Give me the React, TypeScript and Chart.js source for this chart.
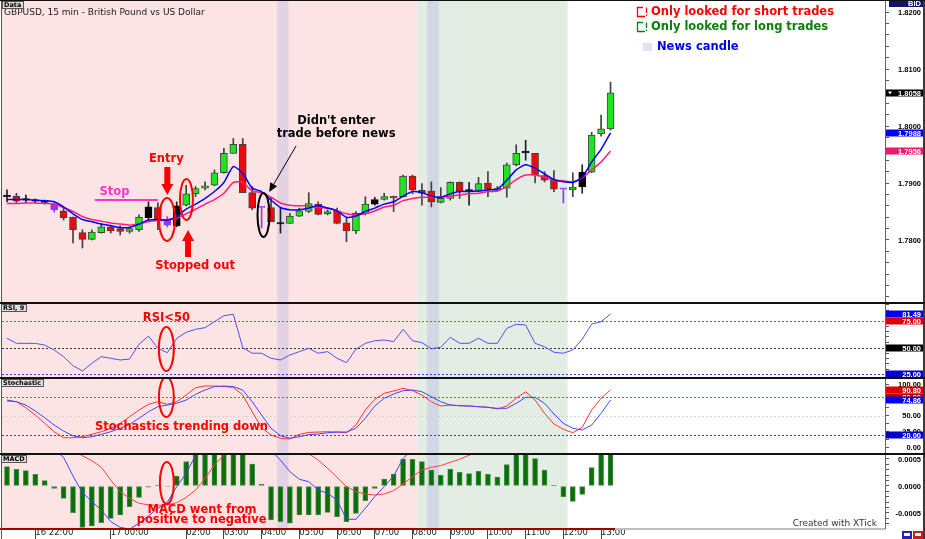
import React, { useEffect, useRef } from 'react';
import { Chart, registerables } from 'chart.js';
Chart.register(...registerables);

// ------------------------------------------------------------------ data
// 15-minute GBPUSD candles, 16 21:15 .. 17 13:15
const OPEN = [1.7876, 1.7877, 1.7870, 1.7868, 1.7867, 1.7863, 1.7851, 1.7840, 1.7813, 1.7801, 1.7813, 1.7823, 1.7820, 1.7815, 1.7818, 1.7858, 1.7857, 1.7836, 1.7825, 1.7861, 1.7881, 1.7891, 1.7896, 1.7918, 1.7952, 1.7968, 1.7883, 1.7857, 1.7857, 1.7828, 1.7829, 1.7842, 1.7850, 1.7863, 1.7846, 1.7851, 1.7830, 1.7816, 1.7846, 1.7863, 1.7871, 1.7876, 1.7876, 1.7912, 1.7887, 1.7886, 1.7866, 1.7873, 1.7901, 1.7886, 1.7887, 1.7900, 1.7888, 1.7891, 1.7932, 1.7953, 1.7952, 1.7913, 1.7906, 1.7889, 1.7888, 1.7893, 1.7919, 1.7986, 1.7995];
const HIGH = [1.7888, 1.7882, 1.7879, 1.7872, 1.7870, 1.7865, 1.7856, 1.7840, 1.7818, 1.7818, 1.7828, 1.7826, 1.7825, 1.7823, 1.7844, 1.7867, 1.7865, 1.7841, 1.7867, 1.7896, 1.7894, 1.7902, 1.7923, 1.7961, 1.7978, 1.7978, 1.7894, 1.7857, 1.7873, 1.7856, 1.7847, 1.7856, 1.7883, 1.7867, 1.7853, 1.7856, 1.7838, 1.7850, 1.7876, 1.7875, 1.7882, 1.7877, 1.7914, 1.7914, 1.7899, 1.7902, 1.7892, 1.7902, 1.7902, 1.7901, 1.7910, 1.7920, 1.7894, 1.7935, 1.7967, 1.7975, 1.7952, 1.7920, 1.7922, 1.7889, 1.7918, 1.7932, 1.7989, 1.8019, 1.8077];
const LOW = [1.7867, 1.7865, 1.7865, 1.7865, 1.7863, 1.7849, 1.7835, 1.7795, 1.7786, 1.7800, 1.7812, 1.7812, 1.7809, 1.7812, 1.7815, 1.7835, 1.7818, 1.7823, 1.7823, 1.7860, 1.7876, 1.7888, 1.7895, 1.7917, 1.7952, 1.7883, 1.7853, 1.7821, 1.7832, 1.7812, 1.7829, 1.7841, 1.7848, 1.7844, 1.7844, 1.7828, 1.7797, 1.7811, 1.7844, 1.7861, 1.7870, 1.7850, 1.7875, 1.7881, 1.7861, 1.7858, 1.7865, 1.7870, 1.7873, 1.7861, 1.7885, 1.7876, 1.7886, 1.7875, 1.7930, 1.7940, 1.7900, 1.7902, 1.7885, 1.7865, 1.7876, 1.7882, 1.7918, 1.7982, 1.7993];
const CLOSE = [1.7876, 1.7868, 1.7870, 1.7868, 1.7866, 1.7853, 1.7839, 1.7818, 1.7801, 1.7814, 1.7823, 1.7816, 1.7815, 1.7820, 1.7840, 1.7839, 1.7835, 1.7826, 1.7860, 1.7881, 1.7890, 1.7895, 1.7918, 1.7952, 1.7968, 1.7883, 1.7856, 1.7857, 1.7832, 1.7828, 1.7842, 1.7851, 1.7864, 1.7845, 1.7850, 1.7829, 1.7816, 1.7847, 1.7863, 1.7871, 1.7876, 1.7874, 1.7912, 1.7888, 1.7882, 1.7867, 1.7873, 1.7901, 1.7885, 1.7886, 1.7899, 1.7889, 1.7890, 1.7932, 1.7952, 1.7953, 1.7914, 1.7905, 1.7889, 1.7889, 1.7893, 1.7919, 1.7984, 1.7995, 1.8058];
// candle colour class: g = up, r = down, k = black, p = purple
const KIND = ['k', 'r', 'k', 'k', 'k', 'p', 'r', 'r', 'r', 'g', 'g', 'r', 'r', 'g', 'g', 'k', 'r', 'p', 'k', 'g', 'g', 'g', 'g', 'g', 'g', 'r', 'r', 'p', 'r', 'k', 'g', 'g', 'g', 'r', 'g', 'r', 'r', 'g', 'g', 'k', 'g', 'r', 'g', 'r', 'r', 'r', 'g', 'g', 'r', 'k', 'g', 'r', 'g', 'g', 'g', 'k', 'r', 'r', 'r', 'p', 'g', 'k', 'g', 'g', 'g'];

const MA_FAST = [1.7871, 1.7871, 1.7871, 1.7870, 1.7869, 1.7867, 1.7858, 1.7846, 1.7836, 1.7832, 1.7828, 1.7825, 1.7822, 1.7822, 1.7828, 1.7835, 1.7836, 1.7835, 1.7841, 1.7854, 1.7863, 1.7873, 1.7885, 1.7901, 1.7929, 1.7917, 1.7891, 1.7885, 1.7870, 1.7857, 1.7853, 1.7853, 1.7856, 1.7860, 1.7856, 1.7851, 1.7840, 1.7842, 1.7850, 1.7856, 1.7863, 1.7867, 1.7877, 1.7885, 1.7883, 1.7877, 1.7875, 1.7881, 1.7885, 1.7885, 1.7886, 1.7888, 1.7889, 1.7905, 1.7923, 1.7932, 1.7926, 1.7916, 1.7906, 1.7902, 1.7901, 1.7910, 1.7937, 1.7959, 1.7988];
const MA_SLOW = [1.7864, 1.7864, 1.7865, 1.7865, 1.7864, 1.7863, 1.7857, 1.7850, 1.7841, 1.7836, 1.7833, 1.7830, 1.7828, 1.7826, 1.7828, 1.7832, 1.7834, 1.7835, 1.7838, 1.7846, 1.7854, 1.7863, 1.7871, 1.7882, 1.7901, 1.7901, 1.7886, 1.7883, 1.7875, 1.7865, 1.7861, 1.7860, 1.7860, 1.7857, 1.7856, 1.7851, 1.7846, 1.7844, 1.7846, 1.7851, 1.7858, 1.7861, 1.7869, 1.7873, 1.7875, 1.7875, 1.7875, 1.7877, 1.7879, 1.7881, 1.7882, 1.7885, 1.7886, 1.7894, 1.7906, 1.7914, 1.7914, 1.7910, 1.7905, 1.7904, 1.7902, 1.7909, 1.7923, 1.7937, 1.7956];

const RSI = [58.8, 54.1, 54.1, 54.0, 52.5, 47.8, 41.6, 33.2, 28.2, 35.4, 41.6, 40.1, 38.5, 39.4, 53.2, 60.9, 49.4, 45.3, 58.8, 64.4, 67.2, 68.7, 74.3, 79.9, 81.2, 50.0, 44.8, 44.8, 40.1, 38.5, 43.2, 46.3, 49.4, 44.8, 46.3, 40.1, 36.0, 48.5, 54.1, 56.5, 57.2, 55.6, 67.2, 56.5, 54.7, 49.1, 50.4, 59.7, 54.1, 54.1, 58.8, 54.1, 54.1, 68.1, 71.9, 71.2, 54.1, 50.9, 45.7, 44.8, 47.9, 57.9, 72.1, 74.3, 81.49];
const RSI_LEVELS = [75, 50, 25];

const STOCH_K = [73.3, 72.2, 62.8, 51.3, 38.3, 25.1, 15.7, 15.7, 17.3, 21.0, 25.1, 30.5, 38.3, 48.7, 59.2, 68.1, 72.2, 68.1, 72.2, 82.7, 94.2, 96.9, 96.9, 95.8, 94.8, 82.7, 56.5, 31.4, 19.9, 14.8, 13.7, 21.0, 24.0, 24.6, 25.1, 24.6, 23.5, 35.6, 59.2, 76.0, 85.4, 89.0, 93.2, 89.5, 82.7, 72.2, 65.5, 67.0, 65.9, 65.5, 64.4, 63.4, 60.8, 65.5, 77.6, 87.9, 74.9, 54.0, 37.2, 28.9, 23.5, 32.0, 59.2, 77.6, 90.80];
const STOCH_D = [74.9, 72.2, 67.0, 57.6, 47.1, 35.6, 26.2, 18.8, 15.7, 17.3, 21.0, 25.1, 30.5, 36.7, 46.2, 56.5, 64.4, 67.0, 69.7, 74.9, 83.8, 90.6, 95.8, 96.9, 95.8, 90.6, 72.2, 51.3, 30.5, 18.8, 14.8, 17.3, 20.5, 21.5, 23.5, 24.6, 24.6, 30.5, 46.2, 65.5, 77.6, 84.3, 89.5, 90.6, 87.9, 80.1, 72.2, 67.0, 65.9, 65.5, 64.4, 63.4, 61.8, 61.8, 69.7, 79.1, 79.1, 69.7, 52.9, 38.3, 30.5, 27.8, 35.6, 54.0, 74.86];
const STOCH_LEVELS = [80, 50, 20];

const MACD_HIST = [0.000358, 0.000309, 0.000284, 0.000216, 0.000099, -0.000043, -0.000228, -0.000494, -0.000765, -0.00074, -0.000679, -0.000599, -0.000537, -0.000383, -0.00021, -0.00002, 0.00001, -0.00001, 0.000185, 0.00045, 0.0007, 0.0008, 0.0009, 0.0009, 0.0008, 0.00065, 0.000407, 0.000037, -0.00063, -0.00066, -0.00069, -0.000537, -0.000537, -0.000537, -0.000488, -0.000568, -0.00066, -0.000506, -0.000272, -0.000043, 0.00013, 0.000222, 0.0005, 0.000494, 0.00045, 0.000296, 0.000204, 0.000315, 0.000253, 0.000228, 0.000272, 0.000216, 0.000167, 0.000395, 0.0007, 0.0007, 0.000506, 0.000296, 0.00001, -0.000198, -0.000284, -0.000154, 0.00034, 0.0007, 0.0008];
const MACD_LINE = [0.0012, 0.0011, 0.0010, 0.0009, 0.0008, 0.00068, 0.00053, 0.000185, -0.000123, -0.00029, -0.000444, -0.00066, -0.000765, -0.0008, -0.00069, -0.000556, -0.000413, -0.000302, -0.000012, 0.000235, 0.00057, 0.0008, 0.0011, 0.0014, 0.0016, 0.0014, 0.0011, 0.0008, 0.00065, 0.00048, 0.000265, 0.000124, 0.00008, -0.000074, -0.000136, -0.00026, -0.000617, -0.000617, -0.000413, -0.000198, -0.000012, 0.000185, 0.00051, 0.00068, 0.00075, 0.00066, 0.0006, 0.00075, 0.00075, 0.0008, 0.0009, 0.0009, 0.00088, 0.0012, 0.0015, 0.0016, 0.0014, 0.0012, 0.0009, 0.0008, 0.00075, 0.0008, 0.0012, 0.0016, 0.0019];
const MACD_SIGNAL = [0.0014, 0.0013, 0.0012, 0.0011, 0.00098, 0.00088, 0.00076, 0.00066, 0.00056, 0.00047, 0.000346, 0.000111, -0.000105, -0.000228, -0.00032, -0.00035, -0.000358, -0.00035, -0.000309, -0.00021, -0.000074, 0.000142, 0.000389, 0.00057, 0.0008, 0.0009, 0.0009, 0.0009, 0.0009, 0.00085, 0.00078, 0.00068, 0.0006, 0.00048, 0.000327, 0.00016, -0.000012, -0.000105, -0.000148, -0.000167, -0.000148, -0.000086, 0.000037, 0.000173, 0.000296, 0.000346, 0.000377, 0.000438, 0.000494, 0.00057, 0.00063, 0.00068, 0.0007, 0.00075, 0.00082, 0.0009, 0.00095, 0.00097, 0.00097, 0.00097, 0.00097, 0.00096, 0.00098, 0.00105, 0.0011];

// x-axis ticks (candle index) and their labels
const TICK_POS = [3, 11, 19, 23, 27, 31, 35, 39, 43, 47, 51, 55, 59, 63];
const TICK_LABELS = ['16 22:00', '17 00:00', '02:00', '03:00', '04:00', '05:00', '06:00', '07:00', '08:00', '09:00', '10:00', '11:00', '12:00', '13:00'];

// y-axis major labels
const PRICE_TICKS = [1.78, 1.79, 1.80, 1.81, 1.82];
const RSI_TICKS = [25, 50, 75];
const STOCH_TICKS = [0, 25, 50, 75, 100];
const MACD_TICKS = [-0.0005, 0, 0.0005];

// sessions (in candle-index units) and news candles
const SESSION_FROM = [-1, 43.5];
const SESSION_TO = [43.5, 59.45];
const NEWS_FROM = [28.65, 44.55];
const NEWS_TO = [29.85, 45.8];

// ------------------------------------------------------------------ style
const X_MIN = -0.53;
const X_MAX = 93.107;
const SESSION_COLORS = ['#fde4e4', '#e3ede3'];
const NEWS_COLOR = 'rgba(160,160,230,0.28)';
const FONT = '"DejaVu Sans", Verdana, sans-serif';
const AXIS_FONT = 'bold 7.5px "Liberation Sans", Arial, sans-serif';
const LABEL_RIGHT = 921;
const RED = '#ff0000';
const FILL: any = { g: '#1ee61e', r: '#ee0a0a', k: '#000000', p: '#9933ee' };
const EDGE: any = { g: '#404040', r: '#404040', k: '#000000', p: '#9933ee' };
const WICK: any = { g: '#404040', r: '#404040', k: '#202020', p: '#9933ee' };

const pts = (arr: number[]) => arr.map((v, i) => ({ x: i, y: v }));
const minorTicks = (lo: number, hi: number, step: number) => {
  const out: number[] = [];
  const n = Math.round((hi - lo) / step);
  for (let k = 0; k <= n; k++) out.push(+(lo + k * step).toFixed(6));
  return out;
};

function shadePlugin(levels: { v: number; color: string }[]) {
  return {
    id: 'shade',
    beforeDatasetsDraw(chart: any) {
      const { ctx, chartArea: a } = chart;
      const x = chart.scales.x;
      const y = chart.scales.y;
      ctx.save();
      ctx.beginPath();
      ctx.rect(a.left, a.top, a.right - a.left, a.bottom - a.top);
      ctx.clip();
      SESSION_FROM.forEach((f, k) => {
        const x0 = x.getPixelForValue(f);
        const x1 = x.getPixelForValue(SESSION_TO[k]);
        ctx.fillStyle = SESSION_COLORS[k];
        ctx.fillRect(x0, a.top, x1 - x0, a.bottom - a.top);
      });
      NEWS_FROM.forEach((f, k) => {
        const x0 = x.getPixelForValue(f);
        const x1 = x.getPixelForValue(NEWS_TO[k]);
        ctx.fillStyle = NEWS_COLOR;
        ctx.fillRect(x0, a.top, x1 - x0, a.bottom - a.top);
      });
      ctx.lineWidth = 1;
      ctx.setLineDash([2, 2]);
      levels.forEach((l) => {
        const yy = Math.round(y.getPixelForValue(l.v)) + 0.5;
        ctx.strokeStyle = l.color;
        ctx.beginPath();
        ctx.moveTo(a.left, yy);
        ctx.lineTo(a.right, yy);
        ctx.stroke();
      });
      ctx.restore();
    },
  };
}

function axisPlugin(majors: number[], digits: number, boxes: { v: number; bg: string; tri?: boolean }[]) {
  return {
    id: 'axisLabels',
    afterDraw(chart: any) {
      const { ctx, chartArea: a } = chart;
      const y = chart.scales.y;
      ctx.save();
      ctx.font = AXIS_FONT;
      ctx.textAlign = 'right';
      ctx.textBaseline = 'middle';
      ctx.fillStyle = '#000';
      majors.forEach((v) => ctx.fillText(v.toFixed(digits), LABEL_RIGHT, y.getPixelForValue(v) + 0.5));
      boxes.forEach((b) => {
        const yy = Math.round(y.getPixelForValue(b.v));
        ctx.fillStyle = b.bg;
        ctx.fillRect(a.right + 1, yy - 3.5, 37, 7);
        ctx.fillStyle = '#fff';
        ctx.fillText(b.v.toFixed(digits), LABEL_RIGHT, yy + 0.5);
        if (b.tri) {
          ctx.beginPath();
          ctx.moveTo(a.right + 3, yy - 1.5);
          ctx.lineTo(a.right + 7, yy - 1.5);
          ctx.lineTo(a.right + 5, yy + 1.5);
          ctx.closePath();
          ctx.fill();
        }
      });
      ctx.restore();
    },
  };
}

function drawTag(ctx: any, label: string, x: number, y: number) {
  ctx.save();
  ctx.font = `bold 6.5px ${FONT}`;
  const w = Math.ceil(ctx.measureText(label).width) + 4;
  ctx.fillStyle = '#dedede';
  ctx.fillRect(x, y, w, 8);
  ctx.strokeStyle = '#555';
  ctx.lineWidth = 1;
  ctx.strokeRect(x + 0.5, y + 0.5, w - 1, 7);
  ctx.fillStyle = '#000';
  ctx.textBaseline = 'middle';
  ctx.textAlign = 'left';
  ctx.fillText(label, x + 2, y + 4.5);
  ctx.restore();
}

function framePlugin(separator: boolean, tag: string) {
  return {
    id: 'frame',
    afterDraw(chart: any) {
      const { ctx, width, height } = chart;
      ctx.save();
      ctx.fillStyle = '#555';
      ctx.fillRect(1, 0, 1, height);
      ctx.fillStyle = '#3a3a3a';
      ctx.fillRect(923, 0, 2, height);
      ctx.fillStyle = '#111';
      if (separator) ctx.fillRect(0, 0, width, 2);
      else ctx.fillRect(0, 0, width, 1);
      ctx.restore();
      drawTag(ctx, tag, separator ? 1 : 2, separator ? 2 : 1);
    },
  };
}

function text(ctx: any, s: string, x: number, y: number, color: string, font: string, align = 'center') {
  ctx.font = font;
  ctx.fillStyle = color;
  ctx.textAlign = align;
  ctx.textBaseline = 'middle';
  ctx.fillText(s, x, y);
}
function ellipse(ctx: any, cx: number, cy: number, rx: number, ry: number, color: string) {
  ctx.beginPath();
  ctx.ellipse(cx, cy, rx, ry, 0, 0, Math.PI * 2);
  ctx.strokeStyle = color;
  ctx.lineWidth = 2;
  ctx.stroke();
}
function blockArrow(ctx: any, x: number, yTail: number, yTip: number, color: string) {
  const dir = Math.sign(yTip - yTail);
  const yBase = yTip - dir * 11;
  ctx.beginPath();
  ctx.moveTo(x - 3, yTail);
  ctx.lineTo(x + 3, yTail);
  ctx.lineTo(x + 3, yBase);
  ctx.lineTo(x + 6, yBase);
  ctx.lineTo(x, yTip);
  ctx.lineTo(x - 6, yBase);
  ctx.lineTo(x - 3, yBase);
  ctx.closePath();
  ctx.fillStyle = color;
  ctx.fill();
}
const BOLD = `bold 11.5px ${FONT}`;

const mainDeco = {
  id: 'mainDeco',
  afterDraw(chart: any) {
    const { ctx } = chart;
    const X = (i: number) => chart.scales.x.getPixelForValue(i);
    const Y = (v: number) => chart.scales.y.getPixelForValue(v);
    ctx.save();
    text(ctx, 'GBPUSD, 15 min - British Pound vs US Dollar', 4, 13, '#1a1a1a', `9px ${FONT}`, 'left');
    const icon = (yc: number, color: string) => {
      ctx.strokeStyle = color;
      ctx.lineWidth = 1.3;
      ctx.beginPath();
      ctx.moveTo(643, yc - 4.5);
      ctx.lineTo(637.5, yc - 4.5);
      ctx.lineTo(637.5, yc + 4.5);
      ctx.lineTo(645, yc + 4.5);
      ctx.moveTo(646.5, yc - 4.5);
      ctx.lineTo(646.5, yc + 1);
      ctx.moveTo(646.5, yc + 2.5);
      ctx.lineTo(646.5, yc + 4);
      ctx.stroke();
    };
    icon(12, '#ff0000');
    text(ctx, 'Only looked for short trades', 651, 12.5, '#ff0000', BOLD, 'left');
    icon(27, '#0b7d0b');
    text(ctx, 'Only looked for long trades', 651, 27.5, '#0b7d0b', BOLD, 'left');
    ctx.fillStyle = '#e2e2f4';
    ctx.fillRect(643, 43, 9, 8);
    text(ctx, 'News candle', 657, 47.5, '#0000ee', BOLD, 'left');
    ctx.fillStyle = '#14146e';
    ctx.fillRect(889, 0, 34, 7);
    text(ctx, 'BID', 921, 4, '#fff', AXIS_FONT, 'right');

    ctx.strokeStyle = '#ff33cc';
    ctx.lineWidth = 2;
    ctx.beginPath();
    ctx.moveTo(X(9.33), Math.round(Y(1.78702)));
    ctx.lineTo(X(16.0), Math.round(Y(1.78702)));
    ctx.stroke();
    text(ctx, 'Stop', X(11.4), Y(1.78842), '#ff33cc', BOLD);
    text(ctx, 'Entry', X(16.9), Y(1.79421), RED, BOLD);
    blockArrow(ctx, X(17.0), Y(1.7928), Y(1.78789), RED);
    text(ctx, 'Stopped out', X(19.94), Y(1.77544), RED, BOLD);
    blockArrow(ctx, X(19.2), Y(1.77702), Y(1.78175), RED);
    ellipse(ctx, X(16.97), Y(1.7836), 8, 21.5, RED);
    ellipse(ctx, X(19.03), Y(1.78711), 6.5, 20.5, RED);
    ellipse(ctx, X(27.2), Y(1.78439), 6, 22, '#000');
    text(ctx, "Didn't enter", X(34.9), Y(1.80088), '#000', BOLD);
    text(ctx, 'trade before news', X(34.9), Y(1.7986), '#000', BOLD);
    const x0 = X(30.65), y0 = Y(1.79649), x1 = X(27.8), y1 = Y(1.78842);
    const ang = Math.atan2(y1 - y0, x1 - x0);
    ctx.strokeStyle = '#000';
    ctx.lineWidth = 1;
    ctx.beginPath();
    ctx.moveTo(x0, y0);
    ctx.lineTo(x1 - Math.cos(ang) * 6, y1 - Math.sin(ang) * 6);
    ctx.stroke();
    ctx.fillStyle = '#000';
    ctx.beginPath();
    ctx.moveTo(x1, y1);
    ctx.lineTo(x1 - Math.cos(ang) * 9 + Math.sin(ang) * 4, y1 - Math.sin(ang) * 9 - Math.cos(ang) * 4);
    ctx.lineTo(x1 - Math.cos(ang) * 9 - Math.sin(ang) * 4, y1 - Math.sin(ang) * 9 + Math.cos(ang) * 4);
    ctx.closePath();
    ctx.fill();
    ctx.restore();
  },
};

const rsiDeco = {
  id: 'rsiDeco',
  afterDraw(chart: any) {
    const { ctx } = chart;
    const X = (i: number) => chart.scales.x.getPixelForValue(i);
    const Y = (v: number) => chart.scales.y.getPixelForValue(v);
    ctx.save();
    text(ctx, 'RSI<50', X(16.9), Y(77.8), RED, BOLD);
    ellipse(ctx, X(16.9), Y(48.8), 7.5, 22, RED);
    ctx.restore();
  },
};

const stochDeco = {
  id: 'stochDeco',
  afterDraw(chart: any) {
    const { ctx } = chart;
    const X = (i: number) => chart.scales.x.getPixelForValue(i);
    const Y = (v: number) => chart.scales.y.getPixelForValue(v);
    ctx.save();
    ellipse(ctx, X(16.9), Y(79.6), 7.5, 20, RED);
    text(ctx, 'Stochastics trending down', X(18.5), Y(33), RED, BOLD);
    ctx.restore();
  },
};

const macdDeco = {
  id: 'macdDeco',
  afterDraw(chart: any) {
    const { ctx, chartArea: a } = chart;
    const X = (i: number) => chart.scales.x.getPixelForValue(i);
    const Y = (v: number) => chart.scales.y.getPixelForValue(v);
    ctx.save();
    ellipse(ctx, X(16.95), Y(0.0000556), 7, 21, RED);
    text(ctx, 'MACD went from', X(20.68), Y(-0.000444), RED, BOLD);
    text(ctx, 'positive to negative', X(20.63), Y(-0.00063), RED, BOLD);
    text(ctx, 'Created with XTick', 877, a.bottom - 4, '#333', `9px ${FONT}`, 'right');
    ctx.fillStyle = '#a00000';
    ctx.fillRect(0, a.bottom, 615, 2);
    ctx.fillStyle = '#bdbdbd';
    ctx.fillRect(615, a.bottom, a.right - 615, 2);
    ctx.fillStyle = '#2222bb';
    ctx.fillRect(902, a.bottom + 3, 10, 8);
    ctx.fillStyle = '#bb2222';
    ctx.fillRect(913, a.bottom + 3, 10, 8);
    ctx.fillStyle = '#fff';
    ctx.fillRect(904, a.bottom + 5, 6, 3);
    ctx.fillRect(915, a.bottom + 5, 6, 3);
    ctx.restore();
  },
};

function yScale(min: number, max: number, ticks: number[]) {
  return {
    type: 'linear',
    position: 'right',
    min,
    max,
    bounds: 'data',
    afterBuildTicks: (s: any) => {
      s.ticks = ticks.map((value) => ({ value }));
    },
    afterFit: (s: any) => {
      s.width = 38;
      s.paddingTop = 0;
      s.paddingBottom = 0;
    },
    ticks: { display: false },
    grid: { display: true, drawOnChartArea: false, drawTicks: true, tickLength: 4, tickColor: '#555' },
    border: { display: true, color: '#666', width: 1 },
  };
}

function xScale(show: boolean) {
  const s: any = {
    type: 'linear',
    min: X_MIN,
    max: X_MAX,
    bounds: 'data',
    offset: false,
    display: show,
    position: 'bottom',
    ticks: { display: false },
    grid: { display: false },
    border: { display: false },
  };
  if (show) {
    s.afterBuildTicks = (sc: any) => {
      sc.ticks = TICK_POS.map((value) => ({ value }));
    };
    s.afterFit = (sc: any) => {
      sc.height = 11;
      sc.paddingLeft = 0;
      sc.paddingRight = 0;
    };
    s.ticks = {
      display: true,
      autoSkip: false,
      maxRotation: 0,
      minRotation: 0,
      align: 'start',
      padding: -11,
      color: '#222',
      font: { family: 'DejaVu Sans', size: 8.5 },
      callback: (_v: any, idx: number) => TICK_LABELS[idx],
    };
    s.grid = { display: true, drawOnChartArea: false, drawTicks: true, tickLength: 11, tickColor: '#444', offset: false };
  }
  return s;
}

function baseOptions(yOpts: any, showX: boolean) {
  return {
    responsive: false,
    animation: false,
    devicePixelRatio: 1,
    events: [],
    layout: { padding: { left: 2, right: 2, top: 0, bottom: 0 } },
    plugins: { legend: { display: false }, tooltip: { enabled: false } },
    scales: { x: xScale(showX), y: yOpts },
  };
}

function mainConfig(): any {
  const last = CLOSE.length - 1;
  return {
    type: 'bar',
    data: {
      datasets: [
        { type: 'line', data: pts(MA_FAST), borderColor: '#0000ff', borderWidth: 1.5, pointRadius: 0, tension: 0.2, order: 0 },
        { type: 'line', data: pts(MA_SLOW), borderColor: '#ff1f7a', borderWidth: 1.5, pointRadius: 0, tension: 0.2, order: 0 },
        {
          type: 'bar',
          data: OPEN.map((o, i) => ({ x: i, y: [o, CLOSE[i]] })),
          backgroundColor: KIND.map((k) => FILL[k]),
          borderColor: KIND.map((k) => EDGE[k]),
          borderWidth: 1,
          borderSkipped: false,
          barThickness: 7,
          minBarLength: 1.5,
          grouped: false,
          order: 1,
        },
        {
          type: 'bar',
          data: LOW.map((l, i) => ({ x: i, y: [l, HIGH[i]] })),
          backgroundColor: KIND.map((k) => WICK[k]),
          borderWidth: 0,
          barThickness: 1,
          grouped: false,
          order: 2,
        },
      ],
    },
    options: baseOptions(yScale(1.76912, 1.82211, minorTicks(1.77, 1.822, 0.002)), false),
    plugins: [
      shadePlugin([]),
      mainDeco,
      framePlugin(false, 'Data'),
      axisPlugin(PRICE_TICKS, 4, [
        { v: CLOSE[last], bg: '#000', tri: true },
        { v: MA_FAST[last], bg: '#0000ff' },
        { v: MA_SLOW[last], bg: '#ee1a70' },
      ]),
    ],
  };
}

function rsiConfig(): any {
  const last = RSI.length - 1;
  return {
    type: 'line',
    data: {
      datasets: [{ data: pts(RSI), borderColor: '#5050ee', borderWidth: 1, pointRadius: 0, tension: 0 }],
    },
    options: baseOptions(yScale(22.6, 92.7, minorTicks(25, 90, 5)), false),
    plugins: [
      shadePlugin([
        { v: RSI_LEVELS[0], color: '#e04040' },
        { v: RSI_LEVELS[1], color: '#333' },
        { v: RSI_LEVELS[2], color: '#3333ee' },
      ]),
      rsiDeco,
      framePlugin(true, 'RSI, 9'),
      axisPlugin(RSI_TICKS, 2, [
        { v: RSI[last], bg: '#0000ee' },
        { v: RSI_LEVELS[0], bg: '#dd0000' },
        { v: RSI_LEVELS[1], bg: '#000' },
        { v: RSI_LEVELS[2], bg: '#0000cc' },
      ]),
    ],
  };
}

function stochConfig(): any {
  const last = STOCH_K.length - 1;
  return {
    type: 'line',
    data: {
      datasets: [
        { data: pts(STOCH_D), borderColor: '#4444ff', borderWidth: 1, pointRadius: 0, tension: 0 },
        { data: pts(STOCH_K), borderColor: '#ff3333', borderWidth: 1, pointRadius: 0, tension: 0 },
      ],
    },
    options: baseOptions(yScale(-8.3, 111, minorTicks(0, 100, 12.5)), false),
    plugins: [
      shadePlugin([
        { v: STOCH_LEVELS[0], color: '#e04040' },
        { v: STOCH_LEVELS[1], color: '#d6d6d6' },
        { v: STOCH_LEVELS[2], color: '#3333ee' },
      ]),
      stochDeco,
      framePlugin(true, 'Stochastic'),
      axisPlugin(STOCH_TICKS, 2, [
        { v: STOCH_LEVELS[0], bg: '#c00000' },
        { v: STOCH_K[last], bg: '#dd0000' },
        { v: STOCH_D[last], bg: '#0000ee' },
        { v: STOCH_LEVELS[2], bg: '#0000cc' },
      ]),
    ],
  };
}

function macdConfig(): any {
  return {
    type: 'bar',
    data: {
      datasets: [
        { type: 'line', data: pts(MACD_LINE), borderColor: '#4040ff', borderWidth: 1, pointRadius: 0, tension: 0, order: 0 },
        { type: 'line', data: pts(MACD_SIGNAL), borderColor: '#ff4040', borderWidth: 1, pointRadius: 0, tension: 0, order: 0 },
        {
          type: 'bar',
          data: pts(MACD_HIST),
          backgroundColor: '#0a6e0a',
          borderColor: '#3f8f3f',
          borderWidth: 1,
          borderSkipped: false,
          barThickness: 5,
          grouped: false,
          order: 1,
        },
      ],
    },
    options: baseOptions(yScale(-0.000778, 0.000611, minorTicks(-0.0007, 0.0006, 0.0001)), true),
    plugins: [shadePlugin([]), macdDeco, framePlugin(true, 'MACD'), axisPlugin(MACD_TICKS, 4, [])],
  };
}

export default function App() {
  const r1 = useRef<HTMLCanvasElement>(null);
  const r2 = useRef<HTMLCanvasElement>(null);
  const r3 = useRef<HTMLCanvasElement>(null);
  const r4 = useRef<HTMLCanvasElement>(null);
  useEffect(() => {
    const charts = [
      new Chart(r1.current as any, mainConfig()),
      new Chart(r2.current as any, rsiConfig()),
      new Chart(r3.current as any, stochConfig()),
      new Chart(r4.current as any, macdConfig()),
    ];
    return () => charts.forEach((c) => c.destroy());
  }, []);
  const cs = (top: number): any => ({ position: 'absolute', left: 0, top, display: 'block' });
  return (
    <div style={{ position: 'absolute', left: 0, top: 0, width: 925, height: 539, background: '#fff', overflow: 'hidden' }}>
      <canvas ref={r1} width={925} height={302} style={cs(0)} />
      <canvas ref={r2} width={925} height={75} style={cs(302)} />
      <canvas ref={r3} width={925} height={76} style={cs(377)} />
      <canvas ref={r4} width={925} height={86} style={cs(453)} />
    </div>
  );
}
